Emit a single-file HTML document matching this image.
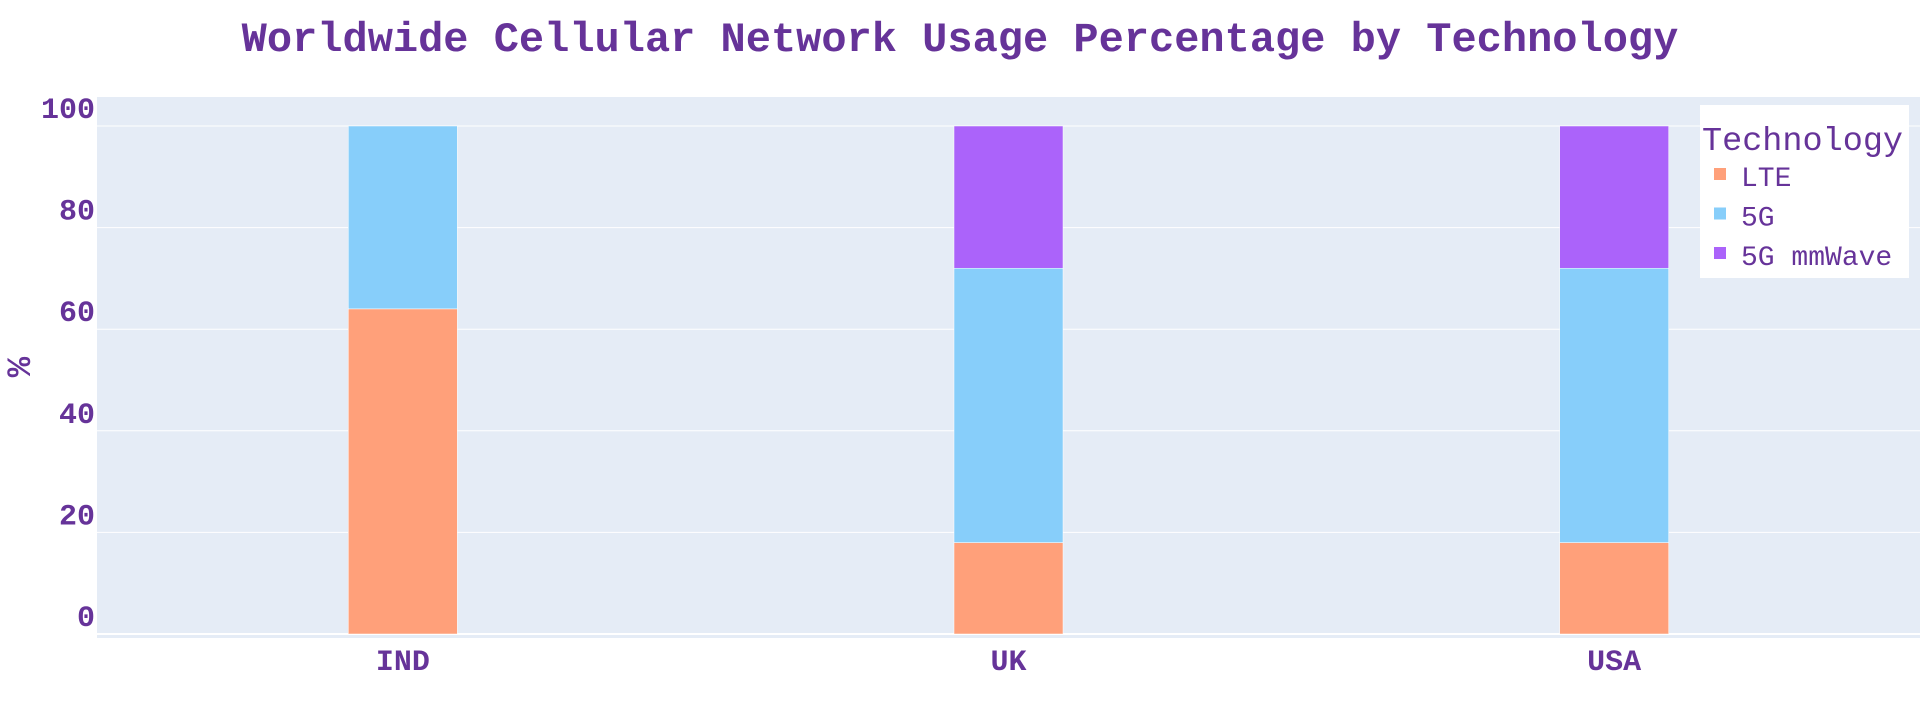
<!DOCTYPE html>
<html><head><meta charset="utf-8"><style>
html,body{margin:0;padding:0;background:#fff;}
svg text{font-family:"Liberation Mono",monospace;fill:#663399;}
</style></head><body>
<svg id="chart" width="1920" height="720" xmlns="http://www.w3.org/2000/svg">
<text x="960" y="51" text-anchor="middle" font-size="42" font-weight="bold">Worldwide Cellular Network Usage Percentage by Technology</text>
<rect x="97" y="97" width="1823" height="541" fill="#E5ECF6"/>
<g id="grid"></g>
<g id="bars"></g>
<g id="xticks"></g>
<text transform="translate(30,367) rotate(-90)" text-anchor="middle" font-size="34" font-weight="bold">%</text>
<g>
<rect x="1700" y="105" width="209" height="173" fill="#fff"/>
<text x="1702" y="150" font-size="33.5">Technology</text>
<g id="legend-items"></g>
</g>
</svg>
<script>
const categories = ["IND", "UK", "USA"];
const seriesNames = ["LTE", "5G", "5G mmWave"];
const lteValues = [64, 18, 18];
const fiveGValues = [36, 54, 54];
const mmWaveValues = [0, 28, 28];
const yTicks = [0, 20, 40, 60, 80, 100];
const colors = ["#FFA07A", "#87CEFA", "#AB63FA"];
const series = [lteValues, fiveGValues, mmWaveValues];
const NS = "http://www.w3.org/2000/svg";
const plotL = 100, plotR = 1917, y0px = 634, pxPerUnit = 5.08;
const band = (plotR - plotL) / categories.length;
function yScale(v){ return y0px - v * pxPerUnit; }
function xCenter(i){ return plotL + band * (i + 0.5); }
function mk(tag, attrs, parent){ const e = document.createElementNS(NS, tag); for (const k in attrs) e.setAttribute(k, attrs[k]); parent.appendChild(e); return e; }
const grid = document.getElementById("grid");
yTicks.forEach(t => {
  const y = yScale(t);
  const l = mk("line", {x1: 97, x2: 1920, y1: y, y2: y, stroke: "#fff", "stroke-width": t === 0 ? 2 : 1}, grid);
  
  
  const tx = mk("text", {x: 95, y: y - 8, "text-anchor": "end", "font-size": 30, "font-weight": "bold"}, grid);
  tx.textContent = t;
  
  
});
const bars = document.getElementById("bars");
const bw = 109;
categories.forEach((c, i) => {
  let base = 0;
  series.forEach((s, k) => {
    const v = s[i];
    if (v > 0) {
      const r = mk("rect", {x: xCenter(i) - bw / 2, y: yScale(base + v), width: bw, height: v * pxPerUnit, fill: colors[k], stroke: "#fff", "stroke-width": 0.5}, bars);
      
      
    }
    base += v;
  });
  const tx = mk("text", {x: xCenter(i), y: 670, "text-anchor": "middle", "font-size": 30, "font-weight": "bold"}, document.getElementById("xticks"));
  tx.textContent = c;
  
  
});
const li = document.getElementById("legend-items");
seriesNames.forEach((n, k) => {
  const by = 186 + k * 39.5;
  const g = mk("g", {}, li);
  
  
  mk("rect", {x: 1714, y: by - 18, width: 12, height: 12, fill: colors[k]}, g);
  const t = mk("text", {x: 1741, y: by, "font-size": 28}, g);
  t.textContent = n;
});
</script>
</body></html>
